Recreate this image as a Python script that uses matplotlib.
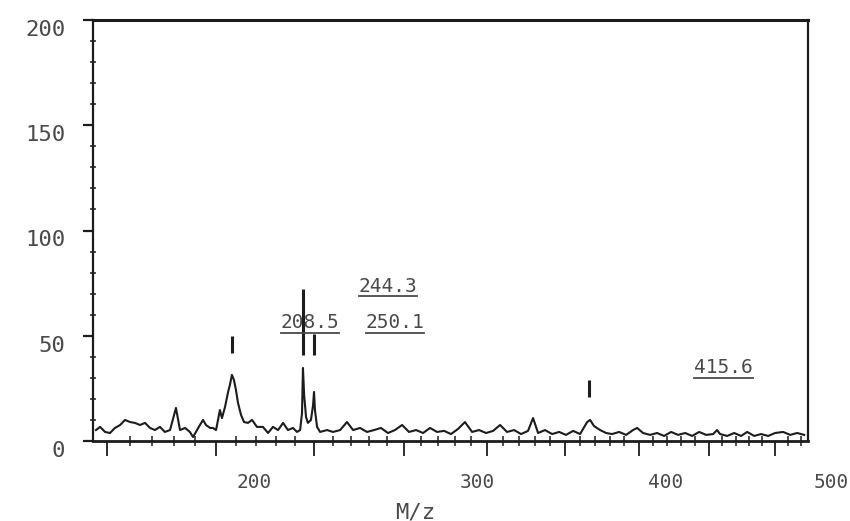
import numpy as np
import matplotlib
matplotlib.use("Agg")
import matplotlib.pyplot as plt
from matplotlib.ticker import MultipleLocator, NullFormatter
from matplotlib.transforms import ScaledTranslation, blended_transform_factory

# spectrum trace (m/z, relative intensity)
mz = [141.4, 142.8, 144.5, 146.2, 147.9, 149.7, 151.4, 153.2, 154.9, 156.7,
      158.5, 160.3, 162.1, 163.9, 165.7, 167.6, 169.8, 171.3, 173.2, 175.0,
      176.2, 177.3, 178.8, 180.0, 181.1, 182.7, 183.8, 185.0, 186.5, 187.3,
      188.5, 189.7, 190.4, 191.2, 192.0, 192.8, 193.6, 194.8, 196.0, 197.6,
      199.2, 201.2, 203.6, 205.7, 207.7, 209.8, 211.9, 213.9, 216.0, 217.7,
      219.0, 219.8, 220.2, 220.7, 221.5, 222.3, 223.6, 224.5, 224.9, 225.3,
      226.2, 227.5,
      230.5, 233.1, 236.2, 239.2, 241.9, 245.0, 248.1, 251.3, 254.4, 257.6,
      260.8, 264.1, 267.3, 270.6, 273.9, 277.2, 280.5, 283.9, 287.2, 290.6,
      294.0, 297.5, 300.9, 304.4, 307.9, 311.4, 314.9, 318.5, 322.0, 325.6,
      328.2, 330.8, 334.4, 338.1, 341.8, 345.4, 349.2, 352.9, 356.7, 358.3,
      360.4, 363.7, 367.0, 370.2, 374.1, 378.0, 381.8, 384.1, 387.4, 391.4,
      395.3, 399.3, 403.3, 407.3, 411.4, 415.4, 419.5, 423.6, 427.7, 430.0,
      431.8, 436.0, 440.2, 444.3, 448.0, 452.2, 456.4, 460.7, 465.0, 469.9,
      474.3, 478.6, 483.0]
intensity = [5.2, 6.7, 4.3, 3.8, 6.2, 7.6, 10.0, 9.0, 8.6, 7.6,
             8.6, 6.2, 5.2, 6.7, 4.3, 5.2, 15.7, 5.2, 6.2, 4.3,
             1.9, 4.3, 7.6, 10.0, 7.6, 6.2, 6.2, 5.2, 14.7, 10.9,
             16.2, 23.3, 26.6, 31.4, 29.0, 24.2, 18.1, 12.4, 9.0, 8.6,
             10.0, 6.7, 6.7, 3.8, 6.7, 5.2, 8.6, 5.2, 6.2, 4.3,
             5.2, 13.3, 34.7, 21.9, 11.4, 8.6, 10.0, 17.1, 23.3, 14.7,
             6.7, 4.3,
             5.2, 4.3, 5.2, 9.0, 5.2, 6.2, 4.3, 5.2, 6.2, 3.8,
             5.2, 7.6, 4.3, 5.2, 3.8, 6.2, 4.3, 4.8, 3.3, 5.7,
             9.0, 4.3, 5.2, 3.8, 4.8, 7.6, 4.3, 5.2, 3.3, 4.8,
             10.9, 3.8, 5.2, 3.3, 4.3, 2.9, 4.8, 3.3, 9.0, 10.0,
             7.1, 5.2, 3.8, 3.3, 4.3, 2.9, 5.2, 6.2, 3.8, 2.9,
             3.8, 2.4, 4.3, 2.9, 3.8, 2.4, 4.3, 2.9, 3.3, 5.2,
             3.3, 2.4, 3.8, 2.4, 4.3, 2.4, 3.3, 2.4, 3.8, 4.3,
             2.9, 3.8, 2.9]

# peak markers (m/z, bottom, top)
mark_mz = [191.2, 220.2, 224.9, 357.5]
mark_lo = [42, 41, 41, 21]
mark_hi = [50, 72, 51, 29]

# peak labels
lab_text = ["244.3", "208.5", "250.1", "415.6"]
lab_mz = [257.6, 223.2, 260.8, 433.6]
lab_y = [71, 53.7, 53.7, 32.3]

xtick_vals = [200, 300, 400, 500]
ytick_vals = [0, 50, 100, 150, 200]

ink = "#1c1c1c"
grey = "#4a4a4a"
mono = "DejaVu Sans Mono"

fig = plt.figure(figsize=(8.5, 5.21), dpi=100)
ax = fig.add_axes([93 / 850, 80 / 521, 715 / 850, 421 / 521])

# magnetic scan: position goes with sqrt(m/z)
ax.set_xscale("function", functions=(np.sqrt, np.square))
ax.set_xlim(140.4, 485.4)
ax.set_ylim(0, 200)

ax.plot(mz, intensity, color=ink, lw=1.5)
ax.vlines(mark_mz, mark_lo, mark_hi, color=ink, lw=2.2)

labels = []
for t, x, y in zip(lab_text, lab_mz, lab_y):
    labels.append(ax.text(x, y, t, ha="center", va="baseline", fontsize=14,
                          family=mono, color=grey))

for s in ax.spines.values():
    s.set_color(ink)
    s.set_linewidth(1.6)
ax.spines["top"].set_linewidth(2.2)
ax.spines["bottom"].set_linewidth(2.0)

# x axis: drawn ticks do not line up with the printed labels
ax.xaxis.set_major_locator(MultipleLocator(40, offset=25))
ax.xaxis.set_minor_locator(MultipleLocator(8, offset=1))
ax.xaxis.set_major_formatter(NullFormatter())
ax.xaxis.set_minor_formatter(NullFormatter())
ax.tick_params(axis="x", which="major", direction="out", length=11, width=1.3, color=ink)
ax.tick_params(axis="x", which="minor", direction="inout", length=7, width=1.1, color=ink)
trans = blended_transform_factory(ax.transData, ax.transAxes)
for v in xtick_vals:
    ax.text(v, -0.076, str(v), transform=trans, ha="center", va="top",
            fontsize=14, family=mono, color=grey, clip_on=False)

ax.set_yticks(ytick_vals)
ax.set_yticklabels([str(v) for v in ytick_vals], family=mono, fontsize=16, color=grey)
ax.yaxis.set_minor_locator(MultipleLocator(10))
ax.tick_params(axis="y", which="major", direction="out", length=7, width=1.6, color=ink, pad=13)
ax.tick_params(axis="y", which="minor", direction="inout", length=5, width=1.1, color=ink)
for lab in ax.get_yticklabels():
    lab.set_transform(lab.get_transform() + ScaledTranslation(0, -0.08, fig.dpi_scale_trans))

ax.set_xlabel("M/z", family=mono, fontsize=16, color=grey)
ax.xaxis.set_label_coords(0.45, -0.145)

# underline each peak label, using its rendered extent
fig.canvas.draw()
inv = ax.transData.inverted()
for t in labels:
    bb = t.get_window_extent()
    (x0, y0), (x1, _) = inv.transform([(bb.x0, bb.y0), (bb.x1, bb.y1)])
    ax.plot([x0, x1], [y0 - 0.3, y0 - 0.3], color=grey, lw=1.3)

fig.savefig("out.png", dpi=100)
